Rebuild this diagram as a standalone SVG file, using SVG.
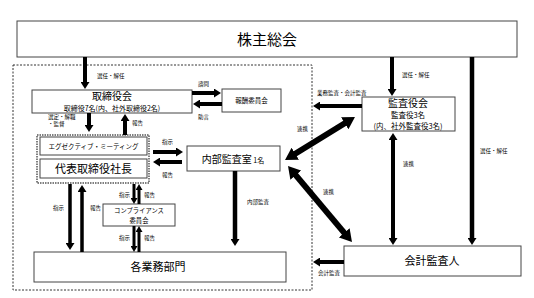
<svg xmlns="http://www.w3.org/2000/svg" width="534" height="298" viewBox="0 0 534 298">
<style>
.box{fill:#fff;stroke:#444;stroke-width:1}
.t{font-family:"Noto Sans CJK JP","Noto Sans",sans-serif;fill:#000;text-anchor:middle}
.l{font-family:"Noto Sans CJK JP","Noto Sans",sans-serif;fill:#000;font-size:5.5px}
.ar{stroke:#000;fill:none}
</style>
<defs>
<marker id="a" markerUnits="userSpaceOnUse" viewBox="0 0 7 9" markerWidth="7" markerHeight="9" refX="1" refY="4.5" orient="auto-start-reverse"><path d="M0,0L7,4.5L0,9z" fill="#000"/></marker>
<marker id="s" markerUnits="userSpaceOnUse" viewBox="0 0 6 7" markerWidth="6" markerHeight="7" refX="1" refY="3.5" orient="auto-start-reverse"><path d="M0,0L6,3.5L0,7z" fill="#000"/></marker>
<marker id="b" markerUnits="userSpaceOnUse" viewBox="0 0 12 14" markerWidth="12" markerHeight="14" refX="1" refY="7" orient="auto-start-reverse"><path d="M0,0L12,7L0,14z" fill="#000"/></marker>
</defs>
<rect width="534" height="298" fill="#fff"/>
<rect x="13" y="65" width="299" height="225" fill="none" stroke="#333" stroke-width="1" stroke-dasharray="2,1.5"/>

<g id="shareholders"><rect class="box" x="17" y="21" width="500" height="36"/><text class="t" x="267" y="45" font-size="15">株主総会</text></g>
<g id="board"><rect class="box" x="32" y="90" width="160" height="23"/><text class="t" x="112" y="100" font-size="10">取締役会</text><text class="t" x="112" y="111" font-size="7">取締役7名(内、社外取締役2名)</text></g>
<g id="compensation"><rect class="box" x="222" y="89" width="59" height="23"/><text class="t" x="251.5" y="103" font-size="6.5">報酬委員会</text></g>
<g id="auditboard"><rect class="box" x="362" y="97" width="93" height="34"/><text class="t" x="408" y="106.5" font-size="10">監査役会</text><text class="t" x="408" y="118" font-size="7.5">監査役3名</text><text class="t" x="408" y="129" font-size="7.5">(内、社外監査役3名)</text></g>
<g id="executive"><rect x="37" y="135" width="112" height="48" fill="none" stroke="#555" stroke-width="1.5" stroke-dasharray="1.5,1"/><rect class="box" x="40" y="137" width="107" height="18"/><text class="t" x="93.5" y="149" font-size="6.5">エグゼクティブ・ミーティング</text><rect class="box" x="40" y="159" width="107" height="19"/><text class="t" x="93.5" y="173" font-size="11">代表取締役社長</text></g>
<g id="internalaudit"><rect class="box" x="187" y="146" width="93" height="25"/><text class="t" x="233" y="162.5"><tspan font-size="10">内部監査室</tspan><tspan font-size="7"> 1名</tspan></text></g>
<g id="compliance"><rect class="box" x="103" y="204" width="72" height="22"/><text class="t" x="139" y="213.2" font-size="6.3">コンプライアンス</text><text class="t" x="139" y="222.6" font-size="6.3">委員会</text></g>
<g id="departments"><rect class="box" x="34" y="252" width="252" height="30"/><text class="t" x="158" y="271" font-size="11">各業務部門</text></g>
<g id="accountant"><rect class="box" x="344" y="246" width="177" height="30"/><text class="t" x="432" y="265" font-size="11">会計監査人</text></g>

<g id="connectors">
<line class="ar" x1="85" y1="57" x2="85" y2="83" stroke-width="4" marker-end="url(#a)"/>
<line class="ar" x1="89" y1="113" x2="89" y2="126" stroke-width="4" marker-end="url(#a)"/>
<line class="ar" x1="125" y1="135" x2="125" y2="120" stroke-width="4" marker-end="url(#a)"/>
<line class="ar" x1="192" y1="93" x2="215" y2="93" stroke-width="4" marker-end="url(#a)"/>
<line class="ar" x1="222" y1="104" x2="199" y2="104" stroke-width="4" marker-end="url(#a)"/>
<line class="ar" x1="362" y1="106" x2="319" y2="106" stroke-width="4" marker-end="url(#a)"/>
<line class="ar" x1="392" y1="57" x2="392" y2="90" stroke-width="4" marker-end="url(#a)"/>
<line class="ar" x1="393" y1="139" x2="393" y2="239" stroke-width="4" marker-start="url(#a)" marker-end="url(#a)"/>
<line class="ar" x1="472" y1="57" x2="472" y2="239" stroke-width="4.5" marker-end="url(#a)"/>
<line class="ar" x1="153" y1="152" x2="177" y2="152" stroke-width="4" marker-end="url(#a)"/>
<line class="ar" x1="182" y1="162" x2="159" y2="162" stroke-width="4" marker-end="url(#a)"/>
<line class="ar" x1="235" y1="171" x2="235" y2="240" stroke-width="4.5" marker-end="url(#a)"/>
<line class="ar" x1="294.4" y1="154.2" x2="345.6" y2="122.8" stroke-width="6" marker-start="url(#b)" marker-end="url(#b)"/>
<line class="ar" x1="295.1" y1="174.4" x2="344.9" y2="233.6" stroke-width="6" marker-start="url(#b)" marker-end="url(#b)"/>
<line class="ar" x1="344" y1="262" x2="319" y2="262" stroke-width="4" marker-end="url(#a)"/>
<line class="ar" x1="70" y1="184" x2="70" y2="244" stroke-width="3.5" marker-end="url(#a)"/>
<line class="ar" x1="82" y1="252" x2="82" y2="191" stroke-width="3.5" marker-end="url(#a)"/>
<line class="ar" x1="134" y1="184" x2="134" y2="199" stroke-width="3" marker-end="url(#s)"/>
<line class="ar" x1="139" y1="204" x2="139" y2="189" stroke-width="3" marker-end="url(#s)"/>
<line class="ar" x1="134" y1="226" x2="134" y2="247" stroke-width="3" marker-end="url(#s)"/>
<line class="ar" x1="139" y1="252" x2="139" y2="231" stroke-width="3" marker-end="url(#s)"/>
<text class="l" x="97" y="78">選任・解任</text>
<text class="l" x="48" y="119">選定・解職</text>
<text class="l" x="48" y="126">・監督</text>
<text class="l" x="132" y="125">報告</text>
<text class="l" x="198" y="86">諮問</text>
<text class="l" x="198" y="119">助言</text>
<text class="l" x="317" y="95">業務監査・会計監査</text>
<text class="l" x="402" y="77">選任・解任</text>
<text class="l" x="403" y="166">連携</text>
<text class="l" x="480" y="153">選任・解任</text>
<text class="l" x="162" y="144">指示</text>
<text class="l" x="162" y="177">報告</text>
<text class="l" x="247" y="204">内部監査</text>
<text class="l" x="297" y="131">連携</text>
<text class="l" x="323" y="194">連携</text>
<text class="l" x="318" y="275">会計監査</text>
<text class="l" x="53" y="210">指示</text>
<text class="l" x="90" y="210">報告</text>
<text class="l" x="119" y="197">指示</text>
<text class="l" x="144" y="197">報告</text>
<text class="l" x="119" y="240">指示</text>
<text class="l" x="144" y="240">報告</text>
</g>
</svg>
